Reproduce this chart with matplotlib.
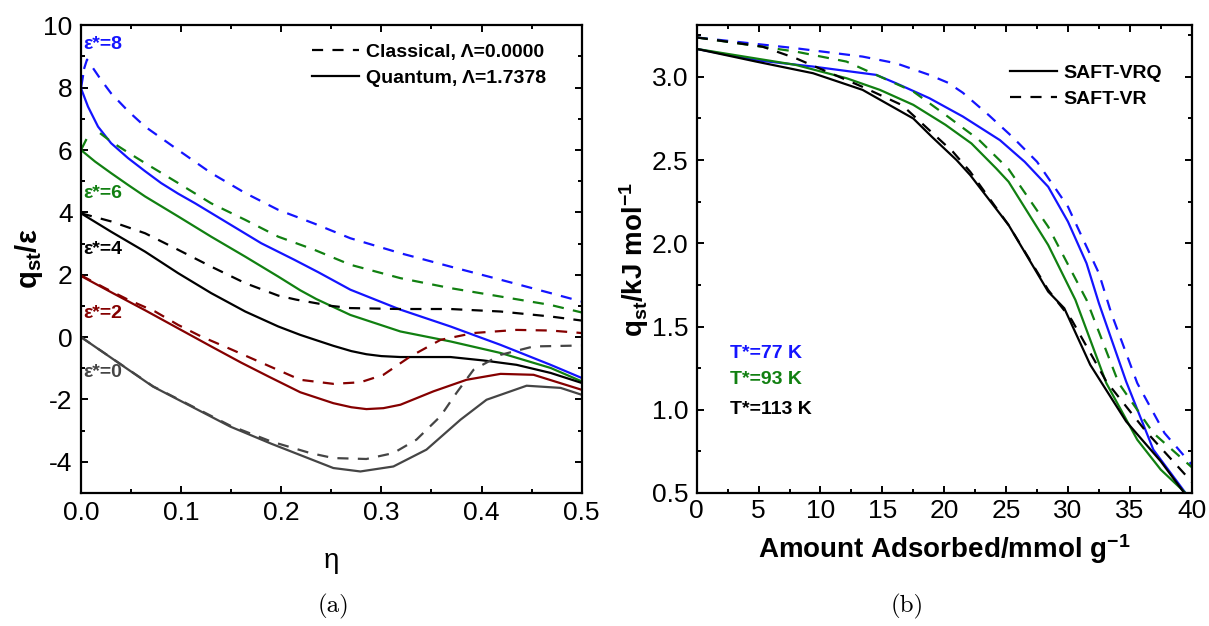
import numpy as np
import matplotlib
matplotlib.use("Agg")
import matplotlib.pyplot as plt
from matplotlib.lines import Line2D
from matplotlib.ticker import MultipleLocator

plt.rcParams['font.family'] = ['Liberation Sans', 'DejaVu Sans']
plt.rcParams['mathtext.fontset'] = 'custom'
plt.rcParams['mathtext.rm'] = 'Liberation Sans'
plt.rcParams['mathtext.bf'] = 'Liberation Sans:bold'
plt.rcParams['mathtext.it'] = 'Liberation Sans:italic'

BLUE = '#1414ff'
GREEN = '#118011'
DRED = '#850000'
GRAY = '#454545'

# ---------- panel (a): q_st/eps vs eta ----------
# eps*=8
eta_q8 = [0.002, 0.0, 0.007, 0.017, 0.030, 0.047, 0.064, 0.080, 0.097, 0.114, 0.147, 0.180, 0.213, 0.237,
          0.269, 0.319, 0.369, 0.419, 0.469, 0.5]
q8 = [8.37, 7.98, 7.39, 6.75, 6.22, 5.74, 5.32, 4.94, 4.60, 4.29, 3.65, 3.01, 2.48, 2.08,
      1.52, 0.88, 0.34, -0.25, -0.89, -1.31]
eta_c8 = [0.003, 0.006, 0.010, 0.020, 0.030, 0.047, 0.064, 0.097, 0.130, 0.164, 0.197, 0.233, 0.269,
          0.319, 0.369, 0.419, 0.469, 0.5]
c8 = [8.6, 8.9, 8.72, 8.25, 7.82, 7.25, 6.75, 6.0, 5.26, 4.62, 4.08, 3.64, 3.17,
      2.69, 2.26, 1.84, 1.41, 1.14]
# eps*=6
eta_q6 = [0.005, 0.0, 0.014, 0.030, 0.047, 0.064, 0.097, 0.130, 0.164, 0.197, 0.219, 0.235, 0.269,
          0.319, 0.369, 0.419, 0.469, 0.5]
q6 = [6.32, 6.0, 5.63, 5.26, 4.88, 4.51, 3.87, 3.22, 2.58, 1.94, 1.50, 1.22, 0.71,
      0.18, -0.14, -0.51, -0.99, -1.42]
eta_c6 = [0.019, 0.030, 0.047, 0.064, 0.097, 0.130, 0.164, 0.197, 0.233, 0.269, 0.319, 0.369, 0.419,
          0.469, 0.5]
c6 = [6.54, 6.27, 5.92, 5.58, 4.94, 4.29, 3.76, 3.22, 2.80, 2.32, 1.89, 1.57, 1.30, 1.03, 0.79]
# eps*=4
eta_q4 = [0.0, 0.030, 0.064, 0.097, 0.130, 0.164, 0.197, 0.219, 0.235, 0.252, 0.270, 0.285, 0.300,
          0.319, 0.369, 0.402, 0.435, 0.469, 0.5]
q4 = [3.97, 3.38, 2.74, 2.05, 1.41, 0.82, 0.34, 0.07, -0.10, -0.28, -0.45, -0.55, -0.61,
      -0.64, -0.64, -0.75, -0.89, -1.15, -1.47]
eta_c4 = [0.0, 0.030, 0.064, 0.097, 0.130, 0.164, 0.197, 0.215, 0.229, 0.250, 0.269, 0.319, 0.369,
          0.419, 0.469, 0.5]
c4 = [3.97, 3.71, 3.33, 2.80, 2.26, 1.73, 1.33, 1.20, 1.12, 1.00, 0.93, 0.90, 0.90, 0.82, 0.66, 0.53]
# eps*=2
eta_q2 = [0.0, 0.030, 0.064, 0.097, 0.130, 0.160, 0.187, 0.219, 0.252, 0.270, 0.285, 0.302, 0.319,
          0.352, 0.385, 0.419, 0.452, 0.5]
q2 = [1.96, 1.44, 0.86, 0.28, -0.30, -0.82, -1.26, -1.77, -2.12, -2.25, -2.31, -2.28, -2.17,
      -1.74, -1.37, -1.18, -1.21, -1.69]
eta_c2 = [0.0, 0.024, 0.047, 0.074, 0.097, 0.120, 0.149, 0.219, 0.252, 0.279, 0.302, 0.329, 0.359,
          0.392, 0.435, 0.469, 0.5]
c2 = [1.98, 1.57, 1.20, 0.82, 0.39, 0.02, -0.38, -1.37, -1.50, -1.45, -1.21, -0.62, -0.09,
      0.13, 0.23, 0.21, 0.13]
# eps*=0
eta_q0 = [0.0, 0.072, 0.149, 0.190, 0.225, 0.252, 0.279, 0.312, 0.345, 0.379, 0.405, 0.445, 0.479, 0.5]
q0 = [0.0, -1.59, -2.87, -3.42, -3.86, -4.20, -4.31, -4.15, -3.61, -2.65, -2.01, -1.56, -1.63, -1.85]
eta_c0 = [0.0, 0.072, 0.149, 0.190, 0.229, 0.252, 0.285, 0.312, 0.335, 0.359, 0.375, 0.392, 0.419,
          0.452, 0.5]
c0 = [0.0, -1.58, -2.84, -3.35, -3.72, -3.88, -3.91, -3.72, -3.29, -2.54, -1.79, -1.05, -0.57,
      -0.30, -0.27]

eps_labels = ['ε*=8', 'ε*=6', 'ε*=4', 'ε*=2', 'ε*=0']
eps_label_y = [9.37, 4.62, 2.80, 0.77, -1.15]

# ---------- panel (b): q_st vs amount adsorbed ----------
n_77q = [0, 4.8, 9.4, 14.5, 16.1, 18.8, 21.5, 24.5, 26.5, 28.4, 30.0, 31.5, 32.5, 34.7, 36.9, 38.5, 39.5]
q_77q = [3.168, 3.10, 3.062, 3.012, 2.962, 2.872, 2.762, 2.62, 2.49, 2.34, 2.13, 1.88, 1.64, 1.17, 0.76, 0.60, 0.50]
n_77c = [0, 8.0, 13.4, 16.1, 18.8, 20.3, 21.5, 23.6, 25.5, 27.5, 30.0, 32.5, 33.5, 35.6, 37.8, 40.0]
q_77c = [3.237, 3.172, 3.122, 3.082, 3.012, 2.965, 2.905, 2.77, 2.64, 2.49, 2.22, 1.82, 1.58, 1.16, 0.86, 0.67]
n_93q = [0, 8.0, 12.1, 14.8, 17.5, 20.1, 22.2, 24.2, 25.2, 28.4, 30.6, 33.1, 35.6, 37.5, 39.5]
q_93q = [3.168, 3.072, 2.992, 2.922, 2.832, 2.712, 2.60, 2.45, 2.37, 1.99, 1.66, 1.16, 0.82, 0.64, 0.50]
n_93c = [0, 8.0, 12.1, 14.8, 17.5, 20.1, 22.8, 25.2, 28.4, 31.5, 34.1, 36.9, 40.0]
q_93c = [3.237, 3.152, 3.092, 3.002, 2.912, 2.772, 2.622, 2.446, 2.10, 1.66, 1.16, 0.86, 0.655]
n_113q = [0, 4.8, 9.4, 13.4, 17.5, 19.0, 21.0, 22.1, 25.2, 28.4, 29.7, 31.8, 34.7, 37.5, 39.4]
q_113q = [3.168, 3.092, 3.022, 2.922, 2.75, 2.64, 2.50, 2.41, 2.11, 1.71, 1.61, 1.27, 0.93, 0.69, 0.50]
n_113c = [0, 5.3, 8.0, 13.4, 16.6, 20.7, 22.1, 25.2, 28.4, 30.3, 33.1, 36.3, 40.0]
q_113c = [3.237, 3.182, 3.112, 2.94, 2.83, 2.55, 2.43, 2.11, 1.72, 1.54, 1.17, 0.87, 0.567]

temp_labels = ['T*=77 K', 'T*=93 K', 'T*=113 K']
temp_label_y = [1.34, 1.18, 1.00]

DASH = (0, (5.0, 4.2))
LW = 1.6

fig = plt.figure(figsize=(12.09, 6.26), dpi=100)
ax1 = fig.add_axes([0.0670, 0.2125, 0.4141, 0.7471])
ax2 = fig.add_axes([0.5763, 0.2125, 0.4094, 0.7471])

def style(ax):
    for s in ax.spines.values():
        s.set_linewidth(1.6)
    ax.tick_params(which='both', direction='in', top=True, right=True, width=1.4)
    ax.tick_params(which='major', length=5, labelsize=19, pad=6)
    ax.tick_params(which='minor', length=3)

# panel (a)
ax1.plot(eta_c8, c8, color=BLUE, lw=LW, ls=DASH)
ax1.plot(eta_q8, q8, color=BLUE, lw=LW)
ax1.plot(eta_c6, c6, color=GREEN, lw=LW, ls=DASH)
ax1.plot(eta_q6, q6, color=GREEN, lw=LW)
ax1.plot(eta_c4, c4, color='black', lw=LW, ls=DASH)
ax1.plot(eta_q4, q4, color='black', lw=LW)
ax1.plot(eta_c2, c2, color=DRED, lw=LW, ls=DASH)
ax1.plot(eta_q2, q2, color=DRED, lw=LW)
ax1.plot(eta_c0, c0, color=GRAY, lw=LW, ls=DASH)
ax1.plot(eta_q0, q0, color=GRAY, lw=LW)

for lab, yy, col in zip(eps_labels, eps_label_y, [BLUE, GREEN, 'black', DRED, GRAY]):
    ax1.text(0.002, yy, lab, color=col, fontsize=14, fontweight='bold', va='center', ha='left')

ax1.set_xlim(0, 0.5)
ax1.set_ylim(-5, 10)
ax1.xaxis.set_minor_locator(MultipleLocator(0.05))
ax1.yaxis.set_minor_locator(MultipleLocator(1))
ax1.set_xticks([0, 0.1, 0.2, 0.3, 0.4, 0.5])
ax1.set_xticklabels(['0.0', '0.1', '0.2', '0.3', '0.4', '0.5'])
ax1.set_yticks([-4, -2, 0, 2, 4, 6, 8, 10])
ax1.set_yticklabels(['-4', '-2', '0', '2', '4', '6', '8', '10'])
style(ax1)
ax1.set_xlabel('η', fontsize=20)
ax1.xaxis.set_label_coords(0.5, -0.118)
ax1.xaxis.label.set_va('top')
ax1.set_ylabel(r'$\mathbf{q}_{\mathbf{st}}$/ε', fontsize=21, fontweight='bold')
ax1.yaxis.set_label_coords(-0.072, 0.5)

h1 = [Line2D([], [], color='black', lw=LW, ls=DASH), Line2D([], [], color='black', lw=LW)]
ax1.legend(h1, ['Classical, Λ=0.0000', 'Quantum, Λ=1.7378'], loc='upper left',
           bbox_to_anchor=(0.462, 0.962), frameon=False, borderpad=0, borderaxespad=0,
           handlelength=2.4, handletextpad=0.35, labelspacing=0.45,
           prop={'weight': 'bold', 'size': 14})

# panel (b)
ax2.plot(n_77c, q_77c, color=BLUE, lw=LW, ls=DASH)
ax2.plot(n_77q, q_77q, color=BLUE, lw=LW)
ax2.plot(n_93c, q_93c, color=GREEN, lw=LW, ls=DASH)
ax2.plot(n_93q, q_93q, color=GREEN, lw=LW)
ax2.plot(n_113c, q_113c, color='black', lw=LW, ls=DASH)
ax2.plot(n_113q, q_113q, color='black', lw=LW)

for lab, yy, col in zip(temp_labels, temp_label_y, [BLUE, GREEN, 'black']):
    ax2.text(2.7, yy, lab, color=col, fontsize=14, fontweight='bold', va='center', ha='left')

ax2.set_xlim(0, 40)
ax2.set_ylim(0.5, 3.31)
ax2.xaxis.set_major_locator(MultipleLocator(5))
ax2.xaxis.set_minor_locator(MultipleLocator(2.5))
ax2.yaxis.set_minor_locator(MultipleLocator(0.25))
ax2.set_yticks([0.5, 1.0, 1.5, 2.0, 2.5, 3.0])
ax2.set_yticklabels(['0.5', '1.0', '1.5', '2.0', '2.5', '3.0'])
style(ax2)
ax2.tick_params(axis='x', pad=4)
ax2.set_xlabel(r'Amount Adsorbed/mmol g$^{\mathbf{-1}}$', fontsize=20, fontweight='bold')
ax2.xaxis.set_label_coords(0.5, -0.083)
ax2.xaxis.label.set_va('top')
ax2.set_ylabel(r'$\mathbf{q}_{\mathbf{st}}$/kJ mol$^{\mathbf{-1}}$', fontsize=20, fontweight='bold')
ax2.yaxis.set_label_coords(-0.092, 0.5)

h2 = [Line2D([], [], color='black', lw=LW), Line2D([], [], color='black', lw=LW, ls=DASH)]
ax2.legend(h2, ['SAFT-VRQ', 'SAFT-VR'], loc='upper left',
           bbox_to_anchor=(0.633, 0.917), frameon=False, borderpad=0, borderaxespad=0,
           handlelength=2.4, handletextpad=0.35, labelspacing=0.45,
           prop={'weight': 'bold', 'size': 14})

fig.text(333 / 1209, 1 - 606 / 626, '(a)', fontsize=18, family='cmr10', ha='center', va='center')
fig.text(907 / 1209, 1 - 606 / 626, '(b)', fontsize=18, family='cmr10', ha='center', va='center')

fig.savefig('out.png', dpi=100)
